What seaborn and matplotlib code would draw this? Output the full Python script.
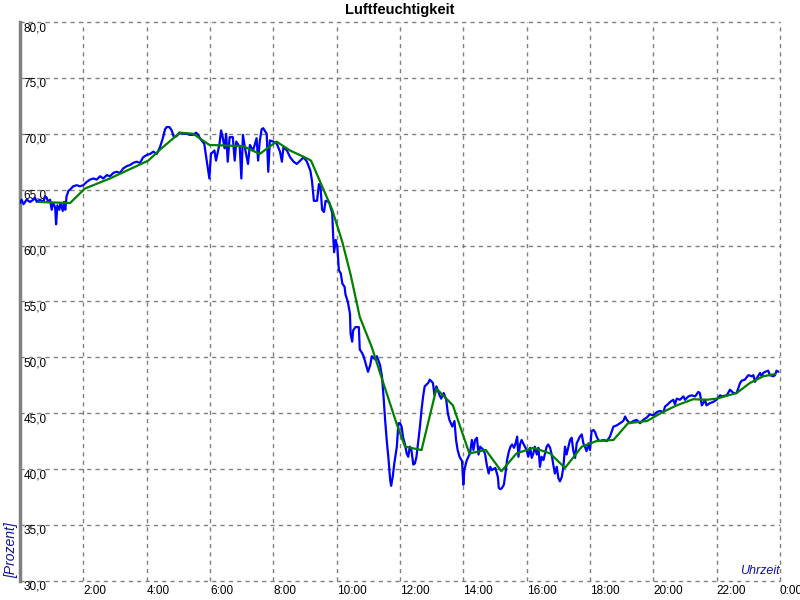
import numpy as np
import pandas as pd
import seaborn as sns
import matplotlib
matplotlib.use("Agg")
import matplotlib.pyplot as plt

# ---------------- data ----------------
# raw humidity (blue): time in hours, value in percent
raw_hours = [
    0.00, 0.05, 0.11, 0.16, 0.21, 0.32, 0.42, 0.47, 0.53, 0.63, 0.74, 0.79, 0.84, 0.89, 0.95,
    1.00, 1.05, 1.11, 1.14, 1.18, 1.24, 1.28, 1.35, 1.39, 1.43, 1.47, 1.53, 1.58, 1.68, 1.79,
    1.89, 2.00, 2.11, 2.21, 2.32, 2.42, 2.53, 2.63, 2.74, 2.84, 2.95, 3.05, 3.16, 3.26, 3.37,
    3.47, 3.58, 3.68, 3.79, 3.89, 4.00, 4.11, 4.21, 4.32, 4.42, 4.51, 4.58, 4.63, 4.72, 4.79,
    4.86, 4.95, 5.03, 5.16, 5.26, 5.37, 5.47, 5.56, 5.63, 5.68,
    5.82, 5.87, 5.98, 6.03, 6.14, 6.19, 6.30, 6.35, 6.40, 6.46, 6.51, 6.56, 6.62, 6.72, 6.78,
    6.83, 6.94, 6.99, 7.04, 7.10, 7.20, 7.26, 7.36, 7.47, 7.52, 7.57, 7.63, 7.68, 7.79, 7.84,
    7.89, 8.00, 8.11, 8.21, 8.27, 8.32, 8.43, 8.53, 8.64, 8.74, 8.85, 8.96, 9.06, 9.17, 9.22,
    9.28, 9.38, 9.44, 9.49, 9.54, 9.60, 9.65, 9.76,
    9.86, 9.89, 9.92, 9.97, 10.02, 10.07, 10.13, 10.18, 10.25, 10.28, 10.35, 10.42, 10.44, 10.49,
    10.52, 10.59, 10.70, 10.73, 10.80, 10.85, 10.91, 10.99, 11.06, 11.11, 11.22, 11.27, 11.37,
    11.43, 11.48, 11.53, 11.58, 11.64, 11.69, 11.72, 11.77, 11.82, 11.90, 11.95, 12.00, 12.05,
    12.10, 12.16, 12.21, 12.26, 12.31, 12.36, 12.42, 12.47, 12.52, 12.57, 12.63, 12.68, 12.73,
    12.78, 12.89, 12.94, 13.04, 13.09, 13.15, 13.25, 13.30, 13.38, 13.46, 13.51, 13.56, 13.65,
    13.72, 13.77, 13.82, 13.88, 13.96, 14.00, 14.03,
    14.11, 14.21, 14.27, 14.32, 14.37, 14.43, 14.48, 14.53, 14.64, 14.69, 14.74, 14.80, 14.85,
    14.90, 15.01, 15.09, 15.12, 15.17, 15.22, 15.28, 15.33, 15.38, 15.44, 15.49, 15.54, 15.60,
    15.65, 15.70, 15.74, 15.79, 15.84, 15.89, 16.00, 16.05, 16.11, 16.16, 16.21, 16.26, 16.32,
    16.37, 16.42, 16.47, 16.53, 16.63, 16.68, 16.74, 16.79, 16.84, 16.89, 16.95, 17.00, 17.05,
    17.11, 17.16, 17.21, 17.26, 17.32, 17.37, 17.42, 17.47, 17.53, 17.58, 17.68, 17.74, 17.79,
    17.84, 17.89, 17.95, 18.00, 18.05, 18.11, 18.16, 18.21, 18.26, 18.32, 18.42, 18.53, 18.63,
    18.68, 18.74, 18.84, 18.95, 19.05, 19.11, 19.16, 19.26, 19.37, 19.47, 19.58, 19.68, 19.79,
    19.89, 20.00, 20.11, 20.21, 20.32, 20.37, 20.42, 20.53, 20.63, 20.68, 20.74, 20.84, 20.95,
    21.00, 21.11, 21.21, 21.32, 21.42, 21.47, 21.53, 21.58, 21.63, 21.68, 21.79, 21.89, 22.00,
    22.11, 22.16, 22.32, 22.42, 22.53, 22.63, 22.74, 22.79, 22.89, 23.00, 23.11, 23.16, 23.21,
    23.26, 23.37, 23.42, 23.47, 23.53, 23.63, 23.68, 23.79, 23.84, 23.89, 23.95,
]
raw_values = [
    63.8, 64.1, 63.7, 63.9, 64.1, 63.9, 64.1, 64.3, 63.9, 64.1, 63.9, 64.4, 64.3, 63.9, 64.1,
    63.2, 63.8, 63.4, 61.9, 63.6, 63.2, 63.8, 63.1, 63.9, 63.2, 64.4, 64.9, 65.0, 65.3, 65.4,
    65.3, 65.4, 65.7, 65.9, 66.0, 65.9, 66.2, 66.0, 66.3, 66.2, 66.5, 66.6, 66.5, 66.9, 67.1,
    67.2, 67.4, 67.5, 67.4, 67.9, 68.1, 68.2, 68.4, 68.2, 68.8, 69.6, 70.4, 70.6, 70.6, 70.3,
    69.7, 69.8, 70.1, 70.0, 70.0, 69.9, 69.9, 70.1, 69.9, 69.6,
    69.1, 68.1, 66.0, 68.2, 68.5, 67.6, 69.1, 70.3, 69.7, 68.7, 70.0, 67.5, 69.7, 69.7, 67.6,
    69.3, 68.8, 66.0, 69.9, 68.8, 67.3, 69.0, 68.5, 69.6, 67.6, 69.3, 70.4, 70.5, 70.0, 66.6,
    69.4, 69.3, 69.1, 68.4, 67.5, 68.8, 68.5, 67.9, 67.5, 67.3, 67.6, 67.9, 67.5, 66.7, 65.8,
    64.0, 64.0, 65.5, 65.2, 63.2, 63.0, 64.0, 63.9,
    62.9, 60.8, 59.4, 60.5, 59.9, 57.8, 57.5, 56.6, 56.3, 55.6, 55.0, 53.9, 52.1, 51.4,
    52.4, 52.7, 52.7, 50.7, 50.4, 50.1, 49.5, 48.7, 49.3, 50.1, 49.8, 50.1, 49.3,
    48.3, 46.5, 44.4, 42.6, 40.8, 39.0, 38.5, 39.3, 40.5, 42.0, 44.1, 44.1, 43.8,
    42.8, 42.2, 41.4, 41.1, 42.0, 41.7, 40.4, 40.5, 41.1, 42.3, 43.8, 45.3, 46.5,
    47.4, 47.7, 48.0, 47.7, 46.6, 47.4, 46.6, 46.3, 46.8, 46.2, 45.0, 44.4, 43.8,
    44.3, 42.6, 41.7, 41.1, 40.7, 38.6, 39.9,
    40.8, 41.4, 42.6, 41.7, 42.6, 42.8, 41.3, 42.0, 41.7, 41.3, 40.4, 39.6, 40.2,
    39.9, 40.1, 39.3, 38.3, 38.2, 38.3, 38.6, 39.6, 40.8, 41.6, 42.0, 42.2, 41.9,
    42.3, 42.9, 41.1, 42.2, 42.6, 42.3, 41.7, 41.1, 41.9, 41.0, 41.4, 42.0, 41.3,
    41.9, 40.2, 41.1, 40.8, 42.0, 42.2, 41.9, 41.3, 40.4, 39.6, 40.2, 39.2, 38.9,
    39.3, 40.2, 42.0, 41.3, 42.0, 42.6, 42.8, 41.7, 41.0, 42.3, 42.9, 43.1, 42.3,
    42.0, 41.6, 42.3, 41.7, 43.4, 43.5, 43.3, 42.9, 42.6, 42.5, 42.6, 42.5, 42.9,
    43.3, 43.8, 43.9, 44.1, 44.3, 44.7, 44.4, 44.1, 44.3, 44.4, 44.1, 44.4, 44.6,
    44.9, 44.8, 45.1, 45.2, 45.1, 45.6, 45.7, 46.0, 46.2, 45.8, 46.3, 46.2, 46.5,
    46.2, 46.5, 46.6, 46.5, 46.9, 46.8, 45.7, 45.9, 46.2, 45.7, 45.9, 46.0, 46.2,
    46.6, 46.5, 46.6, 47.1, 46.8, 46.8, 47.7, 47.9, 48.0, 48.4, 48.3, 48.4, 47.8,
    48.1, 48.6, 48.3, 48.6, 48.7, 48.8, 48.4, 48.3, 48.4, 48.8, 48.7,
]

# smoothed humidity (green)
smooth_hours = [
    0.58, 1.58, 2.05, 2.84, 4.05, 4.47, 5.05, 5.47, 5.98, 7.04, 7.57, 8.10, 8.53, 9.06, 9.19,
    9.86, 10.18, 10.44, 10.73, 11.11, 11.37, 11.90, 12.16, 12.68, 13.15, 13.67, 14.19, 14.71,
    15.20, 15.68, 16.21, 16.74, 17.21, 17.74, 18.20, 18.74, 19.20, 19.80, 20.30, 20.74, 21.26,
    21.68, 22.00, 22.63, 23.05, 23.47, 23.85,
]
smooth_values = [
    63.9, 63.8, 65.1, 66.0, 67.6, 68.7, 70.1, 70.0, 69.0, 68.9, 68.2, 69.3, 68.5, 67.8, 67.6,
    63.2, 60.3, 57.4, 53.6, 50.9, 48.6, 44.0, 42.0, 41.7, 47.2, 45.7, 41.4, 41.7,
    39.8, 41.4, 41.9, 41.4, 40.1, 42.0, 42.5, 42.6, 44.1, 44.3, 45.1, 45.7, 46.25,
    46.2, 46.3, 46.8, 47.7, 48.3, 48.5,
]

y_ticks = [30, 35, 40, 45, 50, 55, 60, 65, 70, 75, 80]
y_tick_labels = ["30,0", "35,0", "40,0", "45,0", "50,0", "55,0", "60,0", "65,0", "70,0", "75,0", "80,0"]
x_ticks = [2, 4, 6, 8, 10, 12, 14, 16, 18, 20, 22, 24]
x_tick_labels = ["2:00", "4:00", "6:00", "8:00", "10:00", "12:00", "14:00", "16:00",
                 "18:00", "20:00", "22:00", "0:00"]

title = "Luftfeuchtigkeit"
y_label = "[Prozent]"
x_label = "Uhrzeit"

# ---------------- plot ----------------
sns.set_theme(style="white")
plt.rcParams["font.family"] = ["Liberation Sans", "DejaVu Sans"]

raw_df = pd.DataFrame({"h": raw_hours, "v": raw_values})
smooth_df = pd.DataFrame({"h": smooth_hours, "v": smooth_values})

fig = plt.figure(figsize=(8, 6), dpi=100)
fig.patch.set_facecolor("white")
ax = fig.add_axes([0.025, 0.032, 0.95, 0.9313])
ax.set_facecolor("white")

sns.lineplot(data=raw_df, x="h", y="v", ax=ax, color="#0000FF", linewidth=1.6,
             estimator=None, sort=False, zorder=3)
sns.lineplot(data=smooth_df, x="h", y="v", ax=ax, color="#008000", linewidth=1.6,
             estimator=None, sort=False, zorder=4)

ax.set_xlim(0, 24)
ax.set_ylim(30, 80)
ax.set_xlabel("")
ax.set_ylabel("")

ax.set_xticks(x_ticks)
ax.set_xticklabels(x_tick_labels, fontsize=8.5, color="black")
ax.set_yticks(y_ticks)
ax.set_yticklabels(y_tick_labels, fontsize=8.5, color="black")
ax.tick_params(axis="x", length=0, pad=3)
ax.tick_params(axis="y", length=0, pad=-2.5)
for lbl in ax.get_xticklabels():
    lbl.set_horizontalalignment("left")
for lbl in ax.get_yticklabels():
    lbl.set_horizontalalignment("left")
    lbl.set_verticalalignment("top")

ax.grid(True, color="#808080", linestyle=(0, (3, 3)), linewidth=1.0)
for gl in ax.get_xgridlines() + ax.get_ygridlines():
    gl.set_clip_on(False)
for side in ["top", "right", "bottom"]:
    ax.spines[side].set_visible(False)
ax.spines["left"].set_color("#808080")
ax.spines["left"].set_linewidth(2.5)

fig.text(0.5, 0.983, title, ha="center", va="center", fontsize=10.5,
         fontweight="bold", color="black")
fig.text(11 / 800, 22 / 600, y_label, rotation=90, ha="center", va="bottom",
         fontsize=10, fontstyle="italic", color="#12129A")
ax.annotate(x_label, xy=(1.0, 0.0), xycoords="axes fraction", xytext=(0, 3),
            textcoords="offset points", ha="right", va="bottom", fontsize=9,
            fontstyle="italic", color="#12129A")

fig.savefig("out.png", dpi=100, facecolor="white")
